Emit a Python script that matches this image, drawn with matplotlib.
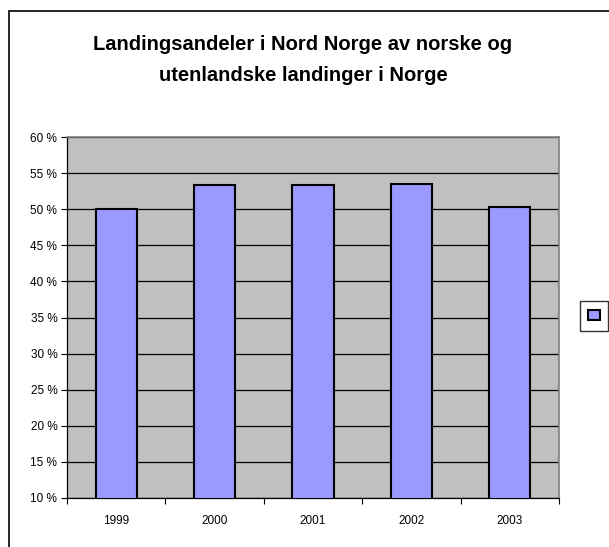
import matplotlib
matplotlib.use("Agg")
import matplotlib.pyplot as plt
from matplotlib.patches import Rectangle
from matplotlib.ticker import FuncFormatter

years = ["1999", "2000", "2001", "2002", "2003"]
andel = [50.0, 53.3, 53.3, 53.5, 50.3]
y_ticks = [10, 15, 20, 25, 30, 35, 40, 45, 50, 55, 60]

plt.rcParams['font.family'] = ['Liberation Sans', 'DejaVu Sans']

W, H = 609, 547
fig = plt.figure(figsize=(W / 100, H / 100), dpi=100)

# plot area in pixels: x 67..559, y 137..498
ax = fig.add_axes([67 / W, 1 - 498 / H, (559 - 67) / W, (498 - 137) / H])
ax.set_facecolor('#C0C0C0')

x = list(range(len(years)))
bars = ax.bar(x, andel, width=0.42, color='#9999FF', edgecolor='black',
              linewidth=1.5, zorder=3)

ax.set_xlim(-0.5, len(years) - 0.5)
ax.set_ylim(10, 60)
ax.set_yticks(y_ticks)
ax.yaxis.set_major_formatter(FuncFormatter(lambda v, p: "%d %%" % v))
ax.set_xticks(x)
ax.set_xticklabels(years)
ax.set_xticks([i + 0.5 for i in range(-1, len(years))], minor=True)
ax.tick_params(axis='x', which='major', length=0, pad=12, labelsize=8.5)
ax.tick_params(axis='x', which='minor', length=4, width=0.8, direction='out')
ax.tick_params(axis='y', length=4, width=0.8, labelsize=8.5, pad=3)

ax.grid(axis='y', color='black', linewidth=0.9, zorder=1)
for s in ['top', 'right']:
    ax.spines[s].set_color('#808080')
    ax.spines[s].set_linewidth(1.2)
for s in ['left', 'bottom']:
    ax.spines[s].set_color('black')
    ax.spines[s].set_linewidth(0.9)
ax.set_axisbelow(True)

fig.text(303 / W, 1 - 60 / H,
         "Landingsandeler i Nord Norge av norske og\nutenlandske landinger i Norge",
         ha='center', va='center', fontsize=14.5, fontweight='bold',
         linespacing=1.75)

# outer chart frame (cropped on right and bottom)
fig.patches.append(Rectangle((9 / W, -0.1), 1.2, 1 - 11 / H + 0.1,
                             transform=fig.transFigure, fill=False,
                             edgecolor='black', linewidth=1.2))

leg = fig.legend([bars], [''], loc='center',
                 bbox_to_anchor=(594 / W, 1 - 316 / H),
                 frameon=True, fancybox=False, handlelength=0.8,
                 handleheight=0.8, handletextpad=0, borderpad=0.6,
                 borderaxespad=0)
leg.get_frame().set_edgecolor('black')
leg.get_frame().set_linewidth(1.0)

fig.savefig("out.png", dpi=100)
